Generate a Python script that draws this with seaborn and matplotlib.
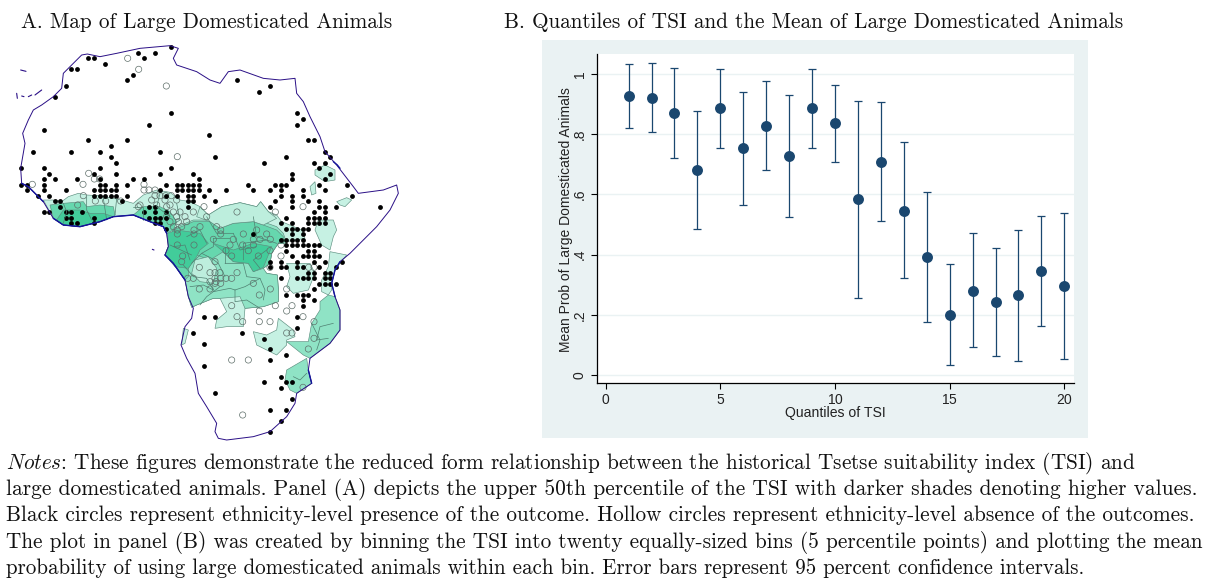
import numpy as np
import pandas as pd
import seaborn as sns
import matplotlib.pyplot as plt
from matplotlib.patches import Rectangle

W, H = 1207, 583

# panel B values
quantile = list(range(1, 21))
mean_prob = [.928, .922, .871, .682, .887, .753, .829, .729, .887, .836,
             .585, .709, .546, .392, .200, .280, .242, .264, .346, .295]
ci_upper = [1.033, 1.037, 1.020, .877, 1.017, .940, .977, .930, 1.017, .963,
            .912, .907, .774, .607, .368, .471, .421, .481, .529, .538]
ci_lower = [.820, .807, .720, .485, .754, .564, .681, .524, .754, .707,
            .255, .511, .322, .175, .032, .092, .062, .046, .162, .052]
x_ticks = [0, 5, 10, 15, 20]
y_ticks = [0, .2, .4, .6, .8, 1]
y_tick_labels = ["0", ".2", ".4", ".6", ".8", "1"]

# panel A, map units
africa_outline = [(65,460),(62,415),(75,340),(68,310),(85,270),(100,240),(125,225),(160,200),(185,175),(190,130),(215,105),(245,75),
    (262,72),(300,80),(350,70),(420,55),(510,47),(535,55),(520,85),(530,105),(590,125),(630,150),(660,160),(685,125),
    (720,120),(790,145),(840,150),(885,145),(890,190),(910,215),(930,260),(960,320),(975,365),(1010,405),(1060,470),
    (1075,490),(1150,480),(1190,465),(1195,490),(1170,540),(1130,590),(1090,630),(1050,670),(1020,695),
    (1005,720),(995,760),(1005,800),(1020,840),(1020,900),(990,940),(930,985),(925,1020),(935,1060),(890,1090),
    (885,1120),(860,1160),(810,1205),(760,1220),(680,1230),(655,1225),(645,1205),(650,1180),(620,1130),
    (595,1090),(585,1030),(560,985),(543,945),(555,890),(575,865),(580,835),(565,800),(555,750),(520,700),
    (495,675),(505,650),(500,610),(490,590),(450,575),(400,555),(340,560),(300,575),(240,590),(190,585),
    (160,565),(130,515),(100,485),(85,470),(65,460)]
blue_coast = [
    [(160,565),(190,585),(240,590),(300,575),(340,560),(400,555),(450,575),(490,590),(500,610)],
    [(65,460),(85,470),(100,485),(130,515)],
    [(1020,695),(1005,720),(995,760),(1005,800)],
    [(495,675),(520,700),(555,750)],
    [(925,1020),(935,1060)],
    [(1000,395),(1012,405),(1020,415)],
]
islands = [
    [(50,190),(52,205)], [(65,198),(72,200)], [(85,200),(95,195)], [(105,195),(125,180)], [(62,120),(78,124)],
    [(457,658),(462,660)],
]
band_light = [(130,510),(160,510),(185,515),(205,500),(235,490),(260,495),(295,497),(330,503),(365,510),(400,520),
    (430,495),(470,480),(510,487),(540,510),(570,515),(600,530),(625,555),(665,530),(720,518),(770,530),(782,515),
    (805,545),(830,555),(845,575),(905,600),(915,625),(830,640),(815,670),(810,700),(785,715),(800,730),(832,735),
    (835,775),(835,815),(790,830),(735,835),(730,890),(680,890),(645,895),(650,870),(680,845),(660,805),(640,805),
    (590,825),(575,832),(565,800),(555,750),(520,700),(495,675),(505,650),(500,610),(490,590),(450,575),(400,555),
    (340,560),(300,575),(240,590),(190,585),(160,565)]
central_soft = [(505,650),(510,630),(520,595),(580,570),(640,570),(660,590),(700,575),(760,565),(830,590),(850,610),
    (860,640),(835,640),(815,670),(810,700),(790,715),(800,730),(832,735),(835,775),(835,815),(790,830),(735,835),
    (720,800),(660,805),(640,805),(590,825),(575,832),(565,800),(555,750),(520,700),(495,675)]
central_mid = [(510,630),(520,600),(580,575),(630,575),(660,595),(700,580),(760,575),(790,585),(830,600),(850,620),
    (850,640),(835,640),(815,670),(810,700),(790,715),(760,725),(745,700),(700,695),(670,665),(630,690),(590,675),
    (565,715),(565,740),(555,750),(520,700),(495,675),(505,650)]
congo_dark = [(495,675),(505,650),(503,610),(530,600),(600,610),(625,640),(600,660),(590,680),(565,715),(525,710)]
drc_dark = [(640,640),(700,660),(760,640),(815,650),(790,712),(760,725),(745,700),(700,695),(670,665)]
kasai_light = [(585,690),(625,680),(650,715),(640,760),(600,755),(575,730)]
cameroon_light = [(600,530),(625,555),(665,530),(720,518),(770,530),(782,515),(805,545),(830,565),(790,585),(760,575),
    (700,580),(660,595),(630,575),(590,560)]
guinea_mid = [(150,525),(190,520),(250,515),(260,530),(300,525),(340,530),(345,555),(340,560),(300,575),(240,590),
    (190,585),(160,565)]
guinea_dark = [(190,540),(240,540),(270,550),(310,550),(340,560),(300,575),(240,590),(190,585),(170,570)]
nigeria_mid = [(400,555),(430,530),(480,530),(510,545),(530,575),(520,600),(500,610),(490,590),(450,575)]
moz_north = [(960,815),(985,795),(1005,800),(1020,840),(1020,900),(990,940),(930,985),(910,975),(860,935),(925,935),
    (935,880),(960,840)]
moz_south = [(860,1020),(920,985),(925,1020),(935,1060),(890,1090),(870,1080),(855,1050)]
zambezi = [(760,905),(800,915),(830,900),(835,865),(880,900),(885,920),(860,930),(860,945),(830,975),(800,960),(770,945)]
inner_patch = [(860,700),(930,700),(945,730),(925,780),(880,790),(860,770),(870,740)]
kenya_coast = [(990,665),(1040,675),(1020,700),(1005,720),(995,760),(995,780),(985,795),(965,785),(965,750),(985,710)]
namibia_strip = [(550,895),(565,900),(555,940),(545,945)]
sudan_patch = [(945,420),(975,405),(1005,420),(1005,450),(975,455),(945,435)]
sudan_sliver = [(930,470),(945,455),(948,490),(935,495)]
ethiopia_patch = [(1010,515),(1040,503),(1055,510),(1035,530),(1020,525)]
rift_strip = [(955,570),(1000,570),(1010,600),(1000,620),(990,660),(965,645),(945,600)]

light_shapes = [band_light, zambezi, inner_patch, kenya_coast, namibia_strip, sudan_patch, sudan_sliver,
                ethiopia_patch, rift_strip]
soft_shapes = [central_soft, moz_north, moz_south]
mid_shapes = [central_mid, guinea_mid, nigeria_mid]
dark_shapes = [congo_dark, drc_dark, guinea_dark]
top_light_shapes = [kasai_light, cameroon_light]

border_lines = [
    [(575,700),(605,670),(640,650),(640,625),(690,625)],
    [(550,705),(580,740),(620,745),(640,780)],
    [(605,670),(635,685),(655,700),(675,740)],
    [(675,700),(730,700),(740,740),(780,745)],
    [(705,780),(735,770),(780,745),(795,780),(790,810)],
    [(705,780),(705,815),(740,810),(780,835)],
    [(640,785),(690,775),(705,780)],
    [(730,690),(730,640),(800,630)],
    [(510,645),(575,675)],
    [(675,650),(675,700)],
    [(800,660),(760,690),(780,715)],
    [(190,520),(200,545),(190,580)],
    [(260,500),(260,540),(275,570)],
    [(310,505),(320,570)],
    [(350,505),(345,555)],
    [(400,530),(430,530),(430,570)],
    [(480,490),(470,530),(510,560)],
    [(530,520),(540,570),(510,590)],
    [(620,560),(650,610),(700,610)],
    [(760,560),(770,620),(830,640)],
    [(1000,880),(960,890),(950,930),(985,925)],
    [(935,880),(960,930),(950,960)],
    [(880,1040),(900,1050),(920,1030)],
    [(560,620),(600,600),(620,640)],
    [(700,610),(720,660),(770,650)],
    [(570,770),(610,765),(640,780)],
    [(520,650),(555,645),(570,690)],
    [(600,825),(620,800),(660,770)],
]

present_rows = [
    (52,[513]),(69,[415,465]),(85,[265,282,431]),(102,[315]),(118,[213,230]),(135,[398]),(151,[382,711]),
    (168,[197,810]),(185,[776]),(201,[164]),(250,[513,892]),(267,[908]),(284,[448,892]),(300,[131]),(315,[628]),
    (331,[265,381,925,942]),(348,[332]),(365,[98,214,299,481,975]),(381,[332,644,859,991]),(398,[348,793,942,975]),
    (414,[64,131,299,513,958]),(431,[147,282,348,481,580,876,991]),(447,[131,164,230,299,398,431,596,876,975]),
    (464,[64,81,131,299,315,348,381,497,530,547,563,580,596,744,826,843,859,958,1041]),
    (480,[81,131,197,282,299,315,332,348,481,530,547,563,580,596,628,677,760,810,843,909,975]),
    (497,[114,147,282,299,315,332,348,381,497,530,563,580,612,843,876,909,1057]),
    (513,[164,180,365,563,580,644,826,876,925,958]),(530,[180,447,464,563,810,876,958,975,1008,1140]),
    (546,[131,147,197,213,246,431,464,497,942,975]),(563,[197,213,282,447,464,481,497,859,925,942,958,975]),
    (579,[213,230,282,464,481,843,876,925,942,958,975]),(596,[497,859,876,892,909,925]),(613,[760,876,909]),
    (629,[843,859,876,892,909]),(645,[859,876,892,909,925,942,958]),(662,[859,925,942]),(679,[876,909,925,942,958]),
    (696,[810,843,892,942,975,1025]),(712,[810,843,859,892,909,958,1008]),(728,[925,942,975,991]),
    (745,[843,892,909,925,942,975,991]),(761,[958,975,991,1008]),(778,[942]),(794,[859,892,909,925]),(811,[909,942]),
    (827,[909]),(860,[611,644,892]),(893,[892]),(910,[580,727]),(926,[793]),(943,[611]),(957,[810]),(974,[859]),
    (991,[810]),(1007,[611]),(1040,[843]),(1057,[793,859,876]),(1073,[843]),(1090,[644]),(1107,[876]),(1140,[810,859]),
    (1173,[843]),(1205,[810]),
]
absent_rows = [
    (85,[383]),(118,[416]),(168,[499]),(380,[532]),(430,[266]),(447,[283,299]),(463,[97,249,432]),
    (480,[432,447,465]),(497,[250,465,480,497,514]),(510,[455,495,530]),(513,[286,317,362]),(525,[233,420,470,510]),(530,[415,500,612,909]),
    (546,[711,826,580,520,540]),(560,[530,555,620,500]),(575,[510,535,560]),(590,[520,545,600,650]),(600,[532,582,662,770]),(612,[532,582,662,730,800]),
    (628,[811,700,760,640,780]),(645,[532,582,728,843,690,760]),(662,[678,745,810]),(678,[548,695,843,775]),(695,[645,545]),
    (712,[598,810,926,942]),(728,[645,711,660,630]),(745,[563,580,662,678,695,645]),
    (755,[648,630]),(760,[662,760,645]),(777,[598,811,860,630]),(795,[778]),(827,[695,826,876]),(843,[778,860]),
    (860,[711,909]),(875,[728,778,810,942]),(909,[860,876]),(925,[942]),(957,[925]),(990,[695,745]),(1072,[909]),(1155,[728]),
]

present_x = [x for y, row in present_rows for x in row]
present_y = [y for y, row in present_rows for x in row]
absent_x = [x for y, row in absent_rows for x in row]
absent_y = [y for y, row in absent_rows for x in row]

sns.set_theme(style="white")
plt.rcParams['font.family'] = ['cmr10', 'DejaVu Serif']
plt.rcParams['mathtext.fontset'] = 'cm'
plt.rcParams['axes.formatter.use_mathtext'] = True

fig = plt.figure(figsize=(W / 100, H / 100), dpi=100, facecolor='white')

def box(x0, y0, x1, y1):
    return [x0 / W, 1 - y1 / H, (x1 - x0) / W, (y1 - y0) / H]

# panel A
ax_map = fig.add_axes(box(0, 30, 420, 445))
ax_map.set_xlim(0, 1260)
ax_map.set_ylim(1245, 0)
ax_map.axis('off')
for shapes, shade in [(light_shapes, '#C6F1E3'), (soft_shapes, '#8FE3C5'), (mid_shapes, '#66D7AE'),
                      (dark_shapes, '#42CC9A'), (top_light_shapes, '#BDEEDD')]:
    for shape in shapes:
        ax_map.fill(*zip(*shape), facecolor=shade, edgecolor='#5d8f80', lw=0.45)
for line in border_lines:
    ax_map.plot(*zip(*line), color='#4f7f70', lw=0.5)
ax_map.plot(*zip(*africa_outline), color='#2a0f86', lw=0.7)
for line in blue_coast:
    ax_map.plot(*zip(*line), color='#14149a', lw=1.0)
for line in islands:
    ax_map.plot(*zip(*line), color='#2a0f86', lw=0.8)
sns.scatterplot(x=absent_x, y=absent_y, ax=ax_map, s=20, facecolor='none', edgecolor='#5f6f6a', linewidth=0.5)
sns.scatterplot(x=present_x, y=present_y, ax=ax_map, s=12, color='black', linewidth=0)

# panel B
fig.add_artist(Rectangle((542 / W, 1 - 438 / H), 546 / W, 398 / H, transform=fig.transFigure,
                         facecolor='#EAF2F3', edgecolor='none', zorder=0))
ax = fig.add_axes(box(596.7, 54, 1074, 383.3))
ax.set_facecolor('white')
ax.set_xlim(-0.39, 20.42)
ax.set_ylim(-0.028, 1.067)
for val in y_ticks:
    ax.axhline(val, color='#EAF2F3', lw=1, zorder=1)
df = pd.DataFrame({"q": quantile, "mean": mean_prob, "lo": ci_lower, "hi": ci_upper})
ax.errorbar(df["q"], df["mean"], yerr=[df["mean"] - df["lo"], df["hi"] - df["mean"]], fmt='none',
            ecolor='#1a476f', elinewidth=0.9, capsize=2.6, capthick=0.9, zorder=2)
sns.scatterplot(data=df, x="q", y="mean", ax=ax, s=62, color='#1a476f', linewidth=0, zorder=3)
for side in ['top', 'right']:
    ax.spines[side].set_visible(False)
for side in ['left', 'bottom']:
    ax.spines[side].set_color('black')
    ax.spines[side].set_linewidth(0.9)
ax.set_xticks(x_ticks)
ax.set_yticks(y_ticks)
ax.set_yticklabels(y_tick_labels, rotation=90, va='center')
ax.tick_params(axis='both', length=4, width=0.8, color='black', labelsize=10, labelcolor='#222222', pad=3,
               left=True, bottom=True)
for lab in ax.get_xticklabels() + ax.get_yticklabels():
    lab.set_family('Liberation Sans')
ax.set_xlabel("")
ax.set_ylabel("")
fig.text(835 / W, 1 - 413 / H, "Quantiles of TSI", family='Liberation Sans', fontsize=10.1, color='#222222',
         ha='center', va='center')
fig.text(566 / W, 1 - 219.5 / H, "Mean Prob of Large Domesticated Animals", family='Liberation Sans', fontsize=10,
         color='#222222', rotation=90, ha='center', va='center')

# titles and notes
fig.text(21 / W, 1 - 28 / H, "A. Map of Large Domesticated Animals", fontsize=15.3, ha='left', va='baseline', color='#111111')
fig.text(504 / W, 1 - 28 / H, "B. Quantiles of TSI and the Mean of Large Domesticated Animals", fontsize=15.3,
         ha='left', va='baseline', color='#111111')
note_lines = [
    r"$\mathit{Notes}$: These figures demonstrate the reduced form relationship between the historical Tsetse suitability index (TSI) and",
    "large domesticated animals. Panel (A) depicts the upper 50th percentile of the TSI with darker shades denoting higher values.",
    "Black circles represent ethnicity-level presence of the outcome. Hollow circles represent ethnicity-level absence of the outcomes.",
    "The plot in panel (B) was created by binning the TSI into twenty equally-sized bins (5 percentile points) and plotting the mean",
    "probability of using large domesticated animals within each bin. Error bars represent 95 percent confidence intervals.",
]
note_base = [469, 495, 521, 548, 574]
note_size = [15.3, 15.45, 15.3, 15.3, 15.1]
for line, base, size in zip(note_lines, note_base, note_size):
    fig.text(6 / W, 1 - base / H, line, fontsize=size, ha='left', va='baseline', color='#111111')

fig.savefig("out.png", dpi=100)
